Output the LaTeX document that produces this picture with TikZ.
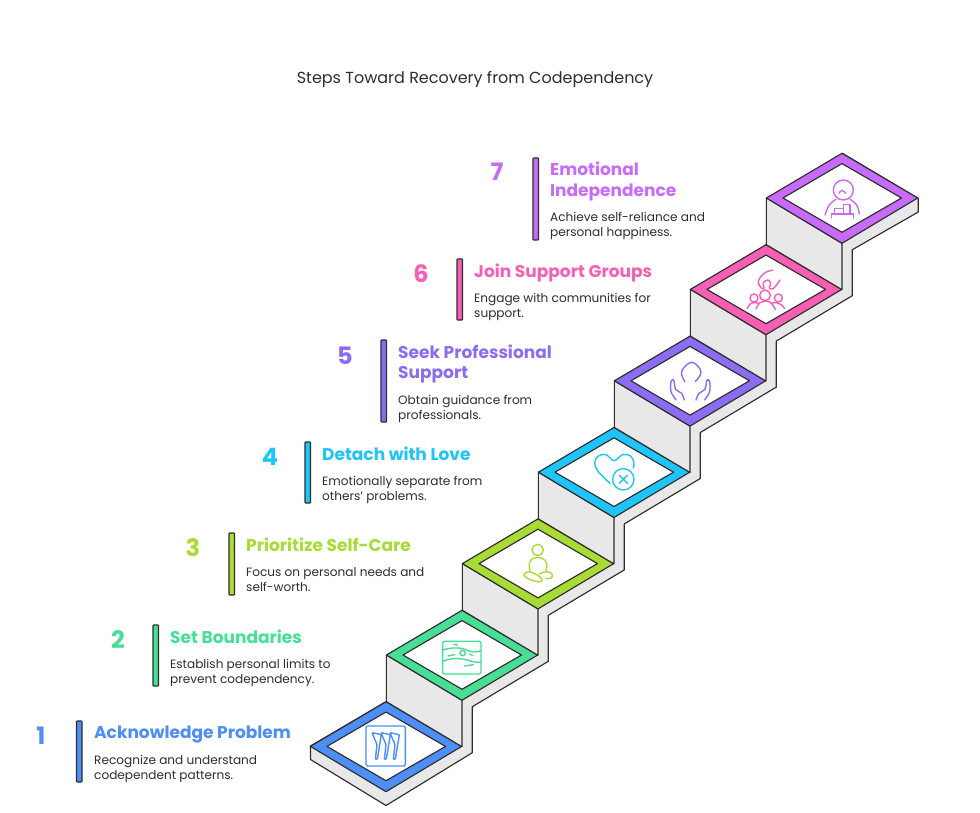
\documentclass[tikz,border=0pt]{standalone}
\usepackage{fontspec}
\setmainfont{Poppins}
\definecolor{cA}{HTML}{4D8EF7}
\definecolor{cB}{HTML}{48DE96}
\definecolor{cC}{HTML}{A8DC35}
\definecolor{cD}{HTML}{1FC4FA}
\definecolor{cE}{HTML}{8B6CF2}
\definecolor{cF}{HTML}{F65FB4}
\definecolor{cG}{HTML}{C96BFA}
\definecolor{ink}{HTML}{2E2E2E}
\definecolor{wall}{HTML}{E8E8E8}
\tikzset{
  edge/.style={draw=ink,line width=1.15pt,line join=round},
  titletext/.style={text=ink,font=\fontsize{16}{18}\selectfont,inner sep=0pt},
  stepnum/.style={font=\fontsize{24}{26}\selectfont\bfseries,inner sep=0pt},
  headtext/.style={anchor=north west,align=left,inner sep=0pt,font=\fontsize{17}{20.3}\selectfont\bfseries},
  desctext/.style={anchor=north west,align=left,inner sep=0pt,text=ink,font=\fontsize{12.1}{15}\selectfont},
  stepbar/.style={draw=ink,line width=1.1pt,rounded corners=0.6pt},
  icon/.style={line width=1.4pt,line cap=round,line join=round,fill=none},
}
\begin{document}
\begin{tikzpicture}[x=1pt,y=-1pt]
\useasboundingbox (0,0) rectangle (980,813);
\fill[white] (0,0) rectangle (980,813);
\node[titletext] (title) at (475,79) {Steps Toward Recovery from Codependency};

% back strip of the whole stair
\path[edge,fill=wall]
  (310.5,746) -- (310.5,759.5) -- (386,805.5) -- (472.3,752.7) -- (472.3,706.7)
  -- (548.3,661.3) -- (548.3,615.3) -- (624.3,569.9) -- (624.3,523.9)
  -- (700.3,478.5) -- (700.3,432.5) -- (776.3,387.1) -- (776.3,341.1)
  -- (852.3,295.7) -- (852.3,249.7) -- (918.3,212) -- (918.3,198.5)
  -- (842.3,153.3) -- (386,701.7) -- cycle;

% risers and tiles, bottom to top
\foreach \i/\col in {0/cA,1/cB,2/cC,3/cD,4/cE,5/cF,6/cG}{
  \begin{scope}[shift={(76*\i,-91.4*\i)}]
    \ifnum\i>0
      \path[edge,fill=wall] (310.4,746.4) -- (386,791.7) -- (386,838.1) -- (310.4,793.1) -- cycle;
    \fi
    \path[edge,fill=\col] (310.4,746.4) -- (386,701.7) -- (461.7,746.4) -- (386,791.7) -- cycle;
    \path[edge,fill=white] (327,746.4) -- (386,712) -- (445.5,746.4) -- (386,780.7) -- cycle;
  \end{scope}
}

% icon 1
\begin{scope}[shift={(360pt,-720pt)},x=0.3333pt,y=-0.3333pt,icon,draw=cA]
  \draw[rounded corners=1.5pt] (18,18) rectangle (136,138);
  \foreach \d in {0,27,54}{
    \draw[xshift=\d*0.3333pt,rounded corners=0.8pt] (36,38) -- (64,44) -- (52,118) -- (46,118) -- (51,74) -- cycle;
  }
\end{scope}
% icon 2
\begin{scope}[shift={(436pt,-634pt)},x=0.3333pt,y=-0.3333pt,icon,draw=cB]
  \draw[rounded corners=1.5pt] (20,22) rectangle (135,120);
  \draw plot[smooth,tension=0.7] coordinates {(20,48) (50,42) (80,44) (110,54) (135,50)};
  \draw plot[smooth,tension=0.7] coordinates {(20,82) (50,74) (85,76) (115,84) (135,84)};
  \draw (80,57) circle[radius=8];
  \draw (53,31) -- (65,33);
  \draw (36,66) -- (56,62);
  \draw (100,60) -- (110,64);
  \draw (86,96) -- (112,92);
\end{scope}
% icon 3
\begin{scope}[shift={(450pt,-510pt)},x=0.3333pt,y=-0.3333pt,icon,draw=cC]
  \draw (263,120) circle[radius=17];
  \draw plot[smooth,tension=0.6] coordinates {(240,185) (238,160) (250,145) (276,145) (290,160) (288,185)};
  \draw plot[smooth cycle,tension=0.6] coordinates {(222,195) (236,185) (262,195) (276,208) (268,216) (238,208)};
  \draw plot[smooth,tension=0.6] coordinates {(268,192) (290,185) (306,192) (304,204) (288,206)};
\end{scope}
% icon 4
\begin{scope}[shift={(530pt,-330pt)},x=0.3333pt,y=-0.3333pt,icon,draw=cD]
  \draw plot[smooth,tension=0.6] coordinates {(240,460) (205,425) (194,398) (205,378) (228,374) (252,392) (278,374) (302,378) (312,398) (310,414)};
  \draw (280,448) circle[radius=32];
  \draw (268,436) -- (292,460) (292,436) -- (268,460);
\end{scope}
% icon 5
\begin{scope}[shift={(530pt,-330pt)},x=0.3333pt,y=-0.3333pt,icon,draw=cE]
  \draw plot[smooth,tension=0.7] coordinates {(465,155) (455,125) (485,97) (513,125) (496,155)};
  \draw plot[smooth,tension=0.5] coordinates {(438,210) (423,185) (423,155) (431,150) (437,178) (455,190) (463,210)};
  \draw plot[smooth,tension=0.5] coordinates {(524,210) (539,185) (539,155) (531,150) (525,178) (507,190) (498,210)};
\end{scope}
% icon 6
\begin{scope}[shift={(740pt,-262pt)},x=0.3333pt,y=-0.3333pt,icon,draw=cF]
  \draw (75,100) circle[radius=16];
  \draw (42,108) circle[radius=12];
  \draw (115,108) circle[radius=12];
  \draw plot[smooth,tension=0.7] coordinates {(48,140) (60,122) (75,117) (92,122) (106,142)};
  \draw plot[smooth,tension=0.7] coordinates {(22,140) (30,126) (44,122) (56,124)};
  \draw plot[smooth,tension=0.7] coordinates {(94,124) (110,122) (124,128) (134,140)};
  \draw plot[smooth,tension=0.6] coordinates {(98,24) (72,34) (55,58) (62,76) (72,80) (70,62) (84,54) (92,64) (88,78) (100,80) (120,54)};
\end{scope}
% icon 7
\begin{scope}[shift={(680pt,-140pt)},x=0.3333pt,y=-0.3333pt,icon,draw=cG]
  \draw (490,150) circle[radius=30];
  \draw plot[smooth,tension=0.8] coordinates {(477,160) (486,151) (497,160)};
  \draw plot[smooth,tension=0.7] coordinates {(435,225) (448,195) (468,178)};
  \draw plot[smooth,tension=0.7] coordinates {(510,178) (530,195) (538,222)};
  \draw (455,234) -- (455,222) -- (520,222) -- (520,234);
  \draw (463,222) -- (463,205) -- (490,205) -- (490,222);
  \draw (490,205) -- (490,193) -- (510,193) -- (510,222);
\end{scope}

% labels
\node[stepnum,text=cA] (numA) at (41,736) {1};
\path[stepbar,fill=cA] (76.5,721) rectangle (82,782);
\node[headtext,text=cA] (headA) at (94,725.5) {Acknowledge Problem};
\node[desctext] (descA) at (94,755.5) {Recognize and understand\\codependent patterns.};

\node[stepnum,text=cB] (numB) at (118,640) {2};
\path[stepbar,fill=cB] (153,625) rectangle (158.5,686);
\node[headtext,text=cB] (headB) at (170,629.5) {Set Boundaries};
\node[desctext] (descB) at (170,659.5) {Establish personal limits to\\prevent codependency.};

\node[stepnum,text=cC] (numC) at (193,548) {3};
\path[stepbar,fill=cC] (229,533) rectangle (234.5,595);
\node[headtext,text=cC] (headC) at (246,537.5) {Prioritize Self-Care};
\node[desctext] (descC) at (246,567.5) {Focus on personal needs and\\self-worth.};

\node[stepnum,text=cD] (numD) at (270,457) {4};
\path[stepbar,fill=cD] (305,442) rectangle (310.5,503);
\node[headtext,text=cD] (headD) at (322,446.5) {Detach with Love};
\node[desctext] (descD) at (322,476.5) {Emotionally separate from\\others' problems.};

\node[stepnum,text=cE] (numE) at (345,356) {5};
\path[stepbar,fill=cE] (381,340) rectangle (386.5,422);
\node[headtext,text=cE] (headE) at (398,344.5) {Seek Professional\\Support};
\node[desctext] (descE) at (398,395.5) {Obtain guidance from\\professionals.};

\node[stepnum,text=cF] (numF) at (421,274) {6};
\path[stepbar,fill=cF] (457,259) rectangle (462.5,320);
\node[headtext,text=cF] (headF) at (474,263.5) {Join Support Groups};
\node[desctext] (descF) at (474,293.5) {Engage with communities for\\support.};

\node[stepnum,text=cG] (numG) at (497,172) {7};
\path[stepbar,fill=cG] (533,158) rectangle (538.5,240);
\node[headtext,text=cG] (headG) at (550,162) {Emotional\\Independence};
\node[desctext] (descG) at (550,212.5) {Achieve self-reliance and\\personal happiness.};
\end{tikzpicture}
\end{document}
